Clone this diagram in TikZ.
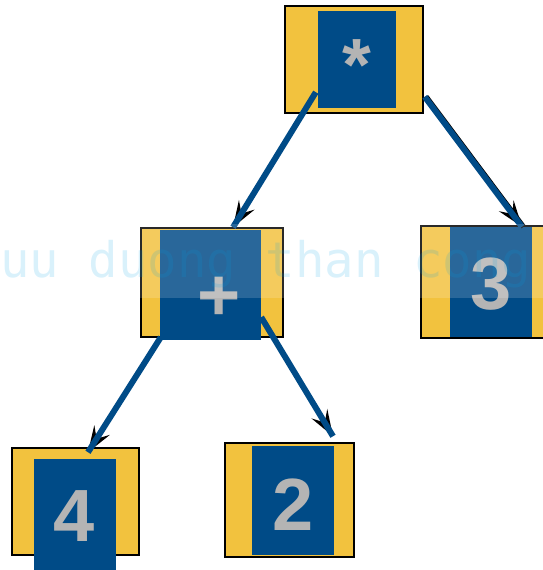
\documentclass[tikz,border=0pt]{standalone}
\usepackage{fontspec}
\setmainfont{Liberation Sans}
\newfontfamily\wmfont{DejaVu Sans Mono}
\usetikzlibrary{arrows.meta}
\definecolor{boxyellow}{RGB}{242,194,62}
\definecolor{boxblue}{RGB}{0,75,135}
\definecolor{valgray}{RGB}{180,180,180}
\definecolor{wmblue}{RGB}{0,160,230}
\tikzset{
  outerbox/.style={rectangle, draw=black, line width=1.5pt, fill=boxyellow, inner sep=0pt},
  innerbox/.style={rectangle, fill=boxblue, inner sep=0pt},
  val/.style={anchor=base, inner sep=0pt, text=valgray, font=\fontsize{74}{80}\selectfont\bfseries},
  link/.style={draw=boxblue, line width=6pt,
    preaction={draw=black, -{Stealth[length=26pt, width=18pt, inset=10pt]}}},
  edged/.style={preaction={draw=black, line width=5pt, transform canvas={xshift=1.5pt}}}
}
\begin{document}
\begin{tikzpicture}[x=1pt, y=-1pt]
\useasboundingbox (0,0) rectangle (543,570);
% boxes
\node[outerbox, minimum width=138pt, minimum height=107pt] (mul) at (354,59.5) {};
\node[innerbox, minimum width=78pt, minimum height=97pt] (mulin) at (357,59.5) {};
\node[outerbox, minimum width=142pt, minimum height=109pt] (plus) at (212,282.5) {};
\node[innerbox, minimum width=101pt, minimum height=110pt] (plusin) at (210.5,285) {};
\node[outerbox, minimum width=134pt, minimum height=112pt] (three) at (488,282) {};
\node[innerbox, minimum width=82pt, minimum height=110pt] (threein) at (491,282) {};
\node[outerbox, minimum width=127pt, minimum height=107pt] (four) at (75.5,501.5) {};
\node[innerbox, minimum width=82pt, minimum height=114pt] (fourin) at (75,516) {};
\node[outerbox, minimum width=129pt, minimum height=114pt] (two) at (289.5,500) {};
\node[innerbox, minimum width=82pt, minimum height=109pt] (twoin) at (293,500.5) {};
% values
\node[val] (multxt) at (357,90) {*};
\node[val] (plustxt) at (219.5,320.5) {+};
\node[val] (threetxt) at (491,309) {3};
\node[val] (fourtxt) at (74,541) {4};
\node[val] (twotxt) at (293,530) {2};
% links
\draw[link] ([xshift=-2pt, yshift=16pt]mulin.south west) -- ([xshift=21pt]plus.north);
\draw[edged, link] ([xshift=1pt, yshift=17pt]mul.south east) -- ([xshift=31pt]threein.north);
\draw[link] ([xshift=1pt, yshift=3pt]plusin.south west) -- ([xshift=12.5pt, yshift=-5pt]four.north);
\draw[link] ([yshift=23pt]plusin.south east) -- ([xshift=43.5pt, yshift=6pt]two.north);
% watermark
\fill[white, opacity=0.16] (0,224) rectangle (543,298);
\node[anchor=base west, inner sep=0pt, text=wmblue, text opacity=0.15, font=\wmfont\fontsize{49}{55}\selectfont] (wmark) at (0,277) {uu duong than cong};
\end{tikzpicture}
\end{document}
